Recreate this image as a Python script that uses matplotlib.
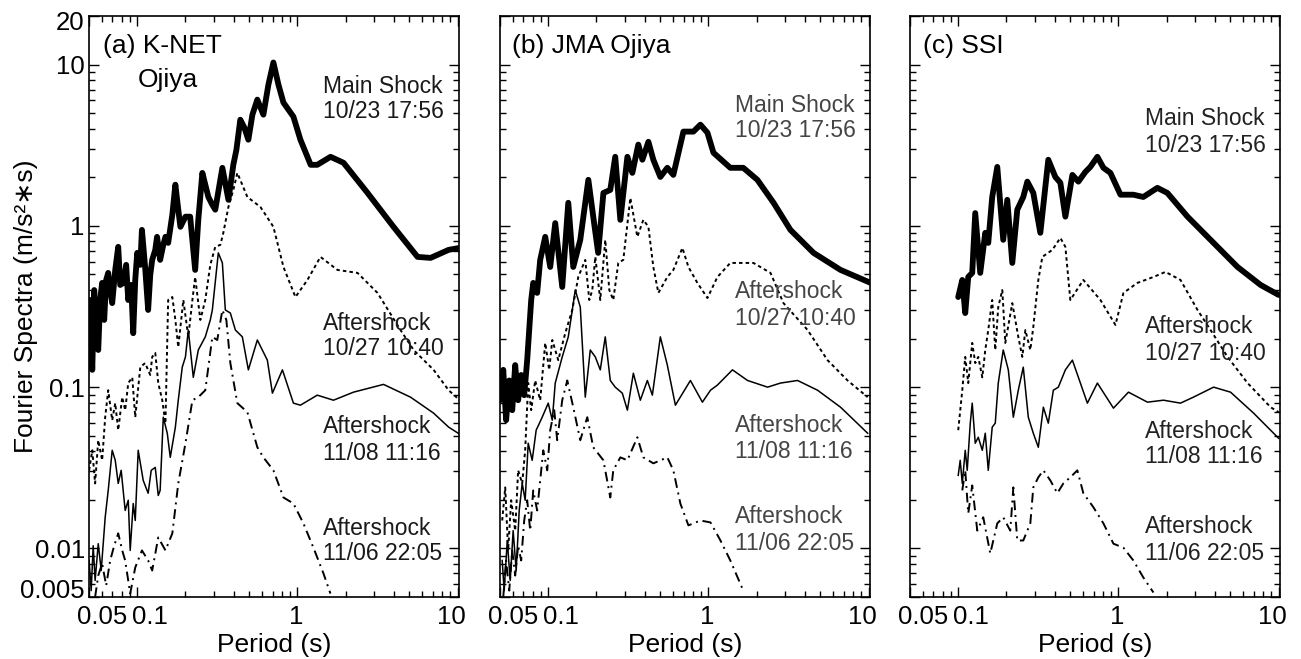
import numpy as np
import matplotlib
matplotlib.use('Agg')
import matplotlib.pyplot as plt
from matplotlib.ticker import FixedLocator, LogLocator, NullFormatter
from matplotlib.transforms import ScaledTranslation

plt.rcParams['font.family'] = ['Liberation Sans', 'DejaVu Sans']

# ---- Fourier spectra, period (s) vs amplitude (m/s^2*s) ----

# (a) K-NET Ojiya
knet_main_t = [0.0501, 0.0508, 0.0524, 0.0539, 0.0555, 0.0571, 0.0587, 0.0604, 0.0622, 0.064,
               0.0659, 0.0678, 0.0698, 0.0729, 0.0761, 0.0783, 0.0818, 0.0853, 0.0879, 0.0917,
               0.0944, 0.0972, 0.1, 0.1045, 0.107, 0.112, 0.117, 0.1206, 0.124, 0.1296,
               0.133, 0.139, 0.1454, 0.15, 0.156, 0.1656, 0.173, 0.1804, 0.186, 0.2,
               0.214, 0.23, 0.2406, 0.255, 0.266, 0.278, 0.2944, 0.307, 0.34, 0.371,
               0.398, 0.416, 0.44, 0.4665, 0.494, 0.5236, 0.562, 0.613, 0.659, 0.708,
               0.761, 0.818, 0.944, 1.044, 1.21, 1.33, 1.61, 1.94, 2.74, 3.98,
               5.62, 6.78, 8.79, 10.3]
knet_main_a = [0.196, 0.347, 0.128, 0.40, 0.226, 0.17, 0.347, 0.443, 0.261, 0.462,
               0.511, 0.40, 0.332, 0.533, 0.741, 0.43, 0.443, 0.573, 0.347, 0.43,
               0.216, 0.462, 0.68, 0.573, 0.944, 0.556, 0.301, 0.496, 0.615, 0.71,
               0.855, 0.615, 0.762, 0.855, 0.784, 1.17, 1.80, 1.26, 0.986, 1.14,
               1.14, 0.533, 1.09, 2.13, 1.80, 1.51, 1.35, 1.26, 2.29, 1.45,
               2.39, 2.96, 4.55, 4.06, 3.42, 4.89, 6.06, 4.89, 7.51, 10.3,
               7.51, 5.81, 4.75, 3.42, 2.39, 2.39, 2.68, 2.46, 1.60, 0.986,
               0.642, 0.633, 0.71, 0.73]

knet_1027_t = [0.0501, 0.0524, 0.0546, 0.0571, 0.0604, 0.0631, 0.0659, 0.0698, 0.0729, 0.0761,
               0.0806, 0.0841, 0.0879, 0.0931, 0.0972, 0.1045, 0.112, 0.1206, 0.124, 0.1296,
               0.1353, 0.1433, 0.15, 0.156, 0.1656, 0.173, 0.1804, 0.194, 0.2084, 0.221,
               0.23, 0.2477, 0.266, 0.2858, 0.307, 0.3303, 0.3447, 0.371, 0.398, 0.4217,
               0.487, 0.5873, 0.708, 0.818, 0.972, 1.155, 1.392, 1.778, 2.371, 3.162,
               4.40, 5.31, 7.08, 8.79, 10.3]
knet_1027_a = [0.0305, 0.0406, 0.0253, 0.0469, 0.0352, 0.0651, 0.0957, 0.0624, 0.0796, 0.0541,
               0.0867, 0.072, 0.106, 0.115, 0.0651, 0.133, 0.141, 0.119, 0.154, 0.163,
               0.106, 0.083, 0.0598, 0.347, 0.362, 0.261, 0.177, 0.347, 0.205, 0.347,
               0.482, 0.261, 0.347, 0.573, 0.741, 0.762, 0.905, 1.31, 1.67, 2.13,
               1.51, 1.31, 0.986, 0.556, 0.362, 0.462, 0.642, 0.533, 0.511, 0.384,
               0.226, 0.17, 0.128, 0.0957, 0.083]

knet_1108_t = [0.0501, 0.0516, 0.0531, 0.0546, 0.0571, 0.0596, 0.0631, 0.0659, 0.0698, 0.0729,
               0.0761, 0.0794, 0.0841, 0.0879, 0.0904, 0.0944, 0.0972, 0.1014, 0.109, 0.117,
               0.1223, 0.1296, 0.1353, 0.139, 0.1454, 0.154, 0.1608, 0.173, 0.1804, 0.191,
               0.2, 0.2084, 0.2239, 0.2406, 0.266, 0.2858, 0.2944, 0.3208, 0.34, 0.3548,
               0.3813, 0.410, 0.453, 0.494, 0.562, 0.649, 0.698, 0.806, 0.944, 1.044,
               1.33, 1.679, 2.239, 3.447, 5.08, 7.08, 8.79, 10.3]
knet_1108_a = [0.00842, 0.00548, 0.0104, 0.00633, 0.0107, 0.0073, 0.0156, 0.0229, 0.0406, 0.0352,
               0.0253, 0.0305, 0.0172, 0.0199, 0.00972, 0.019, 0.0149, 0.0406, 0.0264, 0.022,
               0.0305, 0.0318, 0.0213, 0.0229, 0.0651, 0.0518, 0.0367, 0.0565, 0.083, 0.133,
               0.154, 0.226, 0.115, 0.17, 0.205, 0.261, 0.301, 0.68, 0.589, 0.301,
               0.288, 0.226, 0.205, 0.128, 0.196, 0.147, 0.0918, 0.128, 0.0796, 0.0773,
               0.0892, 0.083, 0.0931, 0.104, 0.0867, 0.069, 0.0565, 0.0511]

knet_1106_t = [0.0546, 0.0571, 0.0604, 0.064, 0.0678, 0.0718, 0.0761, 0.0806, 0.0841, 0.0904,
               0.0972, 0.107, 0.117, 0.124, 0.1353, 0.15, 0.1656, 0.1804, 0.2, 0.221,
               0.2406, 0.266, 0.2944, 0.316, 0.34, 0.36, 0.3813, 0.4217, 0.487, 0.562,
               0.613, 0.708, 0.818, 0.944, 1.09, 1.259, 1.454, 1.607]
knet_1106_a = [0.005, 0.00679, 0.00807, 0.00589, 0.00842, 0.0104, 0.0124, 0.00972, 0.00842, 0.00525,
               0.00762, 0.00972, 0.00842, 0.0073, 0.0117, 0.00972, 0.0124, 0.0253, 0.0449, 0.083,
               0.0867, 0.0957, 0.205, 0.196, 0.301, 0.261, 0.141, 0.0796, 0.07, 0.0424,
               0.0367, 0.0305, 0.0207, 0.019, 0.0143, 0.0101, 0.007, 0.00525]

# (b) JMA Ojiya
jma_main_t = [0.0501, 0.0524, 0.0546, 0.0571, 0.0596, 0.0622, 0.0649, 0.0678, 0.0708, 0.0739,
              0.0783, 0.0806, 0.0853, 0.0891, 0.0958, 0.1029, 0.1106, 0.1223, 0.1334, 0.1433,
              0.1585, 0.178, 0.191, 0.205, 0.221, 0.244, 0.262, 0.282, 0.312, 0.335,
              0.365, 0.387, 0.422, 0.453, 0.501, 0.554, 0.604, 0.698, 0.806, 0.891,
              0.986, 1.075, 1.37, 1.65, 2.02, 2.55, 3.25, 4.53, 6.68, 10.3]
jma_main_a = [0.083, 0.128, 0.0624, 0.11, 0.072, 0.137, 0.083, 0.119, 0.0892, 0.147,
              0.347, 0.443, 0.384, 0.615, 0.855, 0.556, 1.04, 0.418, 1.39, 0.556,
              0.819, 1.93, 1.14, 0.68, 1.60, 1.67, 2.68, 1.09, 2.68, 2.13,
              3.19, 2.57, 3.32, 2.57, 2.01, 2.29, 2.07, 3.84, 3.84, 4.24,
              3.78, 2.84, 2.29, 2.29, 1.93, 1.39, 0.944, 0.68, 0.533, 0.443]

jma_1027_t = [0.0516, 0.0539, 0.0562, 0.0587, 0.0622, 0.0649, 0.0688, 0.0718, 0.075, 0.0783,
              0.0829, 0.0891, 0.0958, 0.1014, 0.106, 0.1155, 0.1277, 0.1413, 0.154, 0.1703,
              0.1804, 0.1884, 0.1967, 0.2113, 0.227, 0.2406, 0.2547, 0.2738, 0.2942, 0.3255,
              0.36, 0.3924, 0.422, 0.453, 0.487, 0.554, 0.604, 0.688, 0.75, 0.853,
              0.986, 1.138, 1.37, 1.91, 2.44, 2.94, 4.16, 5.54, 7.39, 9.86]
jma_1027_a = [0.0149, 0.0239, 0.00972, 0.0199, 0.0129, 0.0305, 0.0253, 0.0406, 0.106, 0.072,
              0.11, 0.083, 0.188, 0.128, 0.196, 0.147, 0.216, 0.301, 0.482, 0.615,
              0.347, 0.40, 0.642, 0.347, 0.819, 0.40, 0.347, 0.589, 0.615, 1.49,
              0.855, 1.09, 0.986, 0.556, 0.384, 0.482, 0.533, 0.73, 0.556, 0.443,
              0.357, 0.482, 0.589, 0.589, 0.511, 0.332, 0.226, 0.147, 0.11, 0.0867]

jma_1108_t = [0.0516, 0.0531, 0.0555, 0.0579, 0.0604, 0.0631, 0.0659, 0.0688, 0.0718, 0.075,
              0.0794, 0.0841, 0.0917, 0.1, 0.106, 0.1106, 0.1223, 0.1334, 0.1475, 0.1585,
              0.1703, 0.183, 0.1967, 0.2113, 0.227, 0.244, 0.262, 0.29, 0.312, 0.34,
              0.3758, 0.4157, 0.4467, 0.501, 0.554, 0.622, 0.772, 0.917, 1.03, 1.138,
              1.413, 1.754, 2.34, 2.818, 3.6, 4.8, 6.68, 9.86]
jma_1108_a = [0.00842, 0.00548, 0.0112, 0.00633, 0.0129, 0.0073, 0.0172, 0.0253, 0.0199, 0.0449,
              0.0352, 0.0541, 0.0651, 0.0796, 0.0624, 0.106, 0.154, 0.205, 0.40, 0.314,
              0.0867, 0.17, 0.154, 0.128, 0.205, 0.11, 0.1, 0.0918, 0.072, 0.122,
              0.083, 0.11, 0.0892, 0.205, 0.137, 0.0773, 0.11, 0.0807, 0.0957, 0.103,
              0.128, 0.11, 0.1, 0.106, 0.11, 0.0957, 0.0751, 0.0518]

jma_1106_t = [0.0524, 0.0546, 0.0571, 0.0596, 0.0622, 0.0649, 0.0678, 0.0708, 0.0739, 0.0772,
              0.0806, 0.0853, 0.0891, 0.0931, 0.0986, 0.1029, 0.109, 0.1138, 0.1223, 0.1315,
              0.1433, 0.1585, 0.1753, 0.191, 0.221, 0.244, 0.2547, 0.282, 0.312, 0.36,
              0.3924, 0.453, 0.554, 0.604, 0.668, 0.75, 0.891, 1.03, 1.189, 1.37,
              1.65]
jma_1106_a = [0.005, 0.00842, 0.00548, 0.00972, 0.00679, 0.0104, 0.00842, 0.0149, 0.0199, 0.0129,
              0.0229, 0.0172, 0.0264, 0.0406, 0.0305, 0.0541, 0.072, 0.0469, 0.083, 0.11,
              0.0751, 0.0469, 0.0651, 0.0424, 0.0352, 0.0207, 0.0305, 0.0367, 0.0352, 0.0489,
              0.0367, 0.0337, 0.0367, 0.0305, 0.019, 0.0139, 0.0149, 0.0145, 0.0112, 0.00842,
              0.00548]

# (c) SSI
ssi_main_t = [0.1, 0.106, 0.1106, 0.1155, 0.1223, 0.1277, 0.1372, 0.1475, 0.154, 0.163,
              0.1753, 0.191, 0.2024, 0.2175, 0.2337, 0.2547, 0.27, 0.2942, 0.3255, 0.365,
              0.4037, 0.434, 0.4665, 0.516, 0.5623, 0.622, 0.668, 0.739, 0.806, 0.891,
              1.03, 1.24, 1.43, 1.75, 2.02, 2.70, 3.76, 5.54, 7.72, 10.0]
ssi_main_a = [0.362, 0.462, 0.288, 0.482, 0.511, 1.20, 0.511, 0.905, 0.784, 1.51,
              2.32, 0.819, 1.45, 0.589, 1.26, 1.51, 1.88, 1.60, 0.905, 2.57,
              2.01, 1.85, 1.14, 2.07, 1.88, 2.16, 2.32, 2.68, 2.29, 2.13,
              1.56, 1.56, 1.51, 1.72, 1.60, 1.14, 0.819, 0.556, 0.430, 0.373]

ssi_1027_t = [0.1, 0.106, 0.1106, 0.1155, 0.1223, 0.1277, 0.1334, 0.1413, 0.1475, 0.154,
              0.163, 0.1703, 0.1778, 0.1884, 0.1967, 0.2175, 0.2371, 0.2512, 0.2624, 0.2818,
              0.2942, 0.3162, 0.335, 0.387, 0.434, 0.4665, 0.501, 0.604, 0.772, 0.958,
              1.075, 1.314, 1.654, 1.966, 2.44, 3.117, 3.76, 4.80, 6.40, 8.91,
              10.0]
ssi_1027_a = [0.0541, 0.0957, 0.154, 0.106, 0.188, 0.141, 0.154, 0.115, 0.17, 0.226,
              0.347, 0.17, 0.314, 0.40, 0.188, 0.332, 0.205, 0.154, 0.226, 0.17,
              0.236, 0.462, 0.642, 0.71, 0.842, 0.741, 0.347, 0.462, 0.347, 0.243,
              0.384, 0.443, 0.482, 0.518, 0.462, 0.301, 0.226, 0.154, 0.106, 0.0751,
              0.07]

ssi_1108_t = [0.1, 0.1029, 0.106, 0.1106, 0.1138, 0.1189, 0.1223, 0.1277, 0.1334, 0.1413,
              0.1475, 0.154, 0.163, 0.1703, 0.1778, 0.191, 0.2054, 0.2208, 0.2371, 0.2547,
              0.2738, 0.2942, 0.3162, 0.34, 0.365, 0.3924, 0.4217, 0.4665, 0.516, 0.64,
              0.739, 0.931, 1.155, 1.518, 1.91, 2.44, 2.94, 3.926, 5.01, 6.98,
              10.0]
ssi_1108_a = [0.0284, 0.0352, 0.0253, 0.0406, 0.0305, 0.0598, 0.0796, 0.0449, 0.0489, 0.0406,
              0.0518, 0.0305, 0.0565, 0.0598, 0.106, 0.17, 0.128, 0.0651, 0.0957, 0.133,
              0.0651, 0.0518, 0.0424, 0.0751, 0.0598, 0.0957, 0.1, 0.128, 0.147, 0.0796,
              0.106, 0.0741, 0.0931, 0.0807, 0.083, 0.0796, 0.0867, 0.1, 0.0931, 0.069,
              0.0482]

ssi_1106_t = [0.106, 0.1106, 0.1155, 0.1223, 0.1315, 0.1433, 0.1585, 0.1753, 0.191, 0.2113,
              0.2208, 0.2337, 0.2547, 0.2818, 0.2942, 0.3162, 0.34, 0.3758, 0.4157, 0.453,
              0.501, 0.554, 0.604, 0.698, 0.806, 0.931, 1.075, 1.24, 1.43, 1.654]
ssi_1106_a = [0.0229, 0.0305, 0.0165, 0.0246, 0.0129, 0.0156, 0.00931, 0.0143, 0.0156, 0.0129,
              0.0239, 0.0112, 0.0112, 0.0143, 0.0239, 0.0276, 0.0305, 0.0264, 0.022, 0.0253,
              0.0276, 0.0305, 0.022, 0.018, 0.0143, 0.0107, 0.0101, 0.00842, 0.00661, 0.00533]

event_labels = [('Main Shock', '10/23 17:56'),
                ('Aftershock', '10/27 10:40'),
                ('Aftershock', '11/08 11:16'),
                ('Aftershock', '11/06 22:05')]

x_ticks = [0.05, 0.1, 1, 10]
x_ticklabels = ['0.05', '0.1', '1', '10']
y_ticks = [0.005, 0.01, 0.1, 1, 10, 20]
y_ticklabels = ['0.005', '0.01', '0.1', '1', '10', '20']

# line style per event: main shock, 10/27, 11/08, 11/06
styles = [dict(lw=4.2, solid_joinstyle='round', solid_capstyle='round'),
          dict(lw=1.4, dashes=(1.8, 1.6)),
          dict(lw=1.1),
          dict(lw=1.4, dashes=(5, 2.5, 1, 2.5))]

panels = [
    dict(left=89, series=[(knet_main_t, knet_main_a), (knet_1027_t, knet_1027_a),
                          (knet_1108_t, knet_1108_a), (knet_1106_t, knet_1106_a)],
         title=[('(a) K-NET', 0.038, 0.936), ('Ojiya', 0.132, 0.878)],
         text_color='#1a1a1a', text_x=0.632,
         text_y=[(0.8675, 0.8244), (0.4596, 0.4165), (0.2823, 0.2358), (0.1067, 0.0637)]),
    dict(left=500, series=[(jma_main_t, jma_main_a), (jma_1027_t, jma_1027_a),
                           (jma_1108_t, jma_1108_a), (jma_1106_t, jma_1106_a)],
         title=[('(b) JMA Ojiya', 0.033, 0.936)],
         text_color='#454545', text_x=0.636,
         text_y=[(0.8348, 0.7917), (0.5146, 0.4682), (0.284, 0.2392), (0.1274, 0.0809)]),
    dict(left=910, series=[(ssi_main_t, ssi_main_a), (ssi_1027_t, ssi_1027_a),
                           (ssi_1108_t, ssi_1108_a), (ssi_1106_t, ssi_1106_a)],
         title=[('(c) SSI', 0.035, 0.936)],
         text_color='#222222', text_x=0.634,
         text_y=[(0.8124, 0.7659), (0.4544, 0.4079), (0.2737, 0.2306), (0.1102, 0.0637)]),
]

W, H = 1301, 659
fig = plt.figure(figsize=(W / 100, H / 100), dpi=100)


def shift(dx_px, dy_px):
    return ScaledTranslation(dx_px / 100, dy_px / 100, fig.dpi_scale_trans)


for i, p in enumerate(panels):
    ax = fig.add_axes([p['left'] / W, (H - 597) / H, 370 / W, 581 / H])
    for (t, a), st in zip(p['series'], styles):
        ax.plot(t, a, color='black', **st)

    ax.set_xscale('log')
    ax.set_yscale('log')
    ax.set_xlim(0.05, 10.2)
    ax.set_ylim(0.005, 20)

    ax.xaxis.set_major_locator(FixedLocator(x_ticks))
    ax.xaxis.set_minor_locator(LogLocator(base=10, subs=np.arange(2, 10), numticks=50))
    ax.xaxis.set_minor_formatter(NullFormatter())
    ax.set_xticklabels(x_ticklabels)
    ax.yaxis.set_major_locator(FixedLocator(y_ticks))
    ax.yaxis.set_minor_locator(LogLocator(base=10, subs=np.arange(2, 10), numticks=50))
    ax.yaxis.set_minor_formatter(NullFormatter())
    if i == 0:
        ax.set_yticklabels(y_ticklabels)
    else:
        ax.set_yticklabels([])

    ax.tick_params(which='both', direction='in', top=True, right=True, width=1.0,
                   labelsize=18.5, colors='black')
    ax.tick_params(which='major', length=7.5)
    ax.tick_params(which='minor', length=4)
    ax.tick_params(axis='x', pad=6)
    ax.tick_params(axis='y', pad=3)
    for sp in ax.spines.values():
        sp.set_linewidth(1.2)

    # nudge the edge tick labels inward
    for lab, dx in zip(ax.get_xticklabels(), [13, 13, -1, -6]):
        lab.set_transform(lab.get_transform() + shift(dx, 0))
    if i == 0:
        ylabs = ax.get_yticklabels()
        ylabs[0].set_transform(ylabs[0].get_transform() + shift(0, 8))
        ylabs[-1].set_transform(ylabs[-1].get_transform() + shift(0, -5))
        ax.set_ylabel('Fourier Spectra (m/s²\u2217s)', fontsize=19)
        ax.yaxis.set_label_coords(-0.137, 0.5)

    ax.set_xlabel('Period (s)', fontsize=19)
    ax.xaxis.set_label_coords(0.5, -0.062)

    for txt, tx, ty in p['title']:
        ax.text(tx, ty, txt, transform=ax.transAxes, fontsize=19,
                ha='left', va='baseline')

    for (l1, l2), (y1, y2) in zip(event_labels, p['text_y']):
        ax.text(p['text_x'], y1, l1, transform=ax.transAxes, fontsize=16.5,
                color=p['text_color'], ha='left', va='baseline')
        ax.text(p['text_x'], y2, l2, transform=ax.transAxes, fontsize=16.5,
                color=p['text_color'], ha='left', va='baseline')

fig.savefig('out.png', dpi=100)
